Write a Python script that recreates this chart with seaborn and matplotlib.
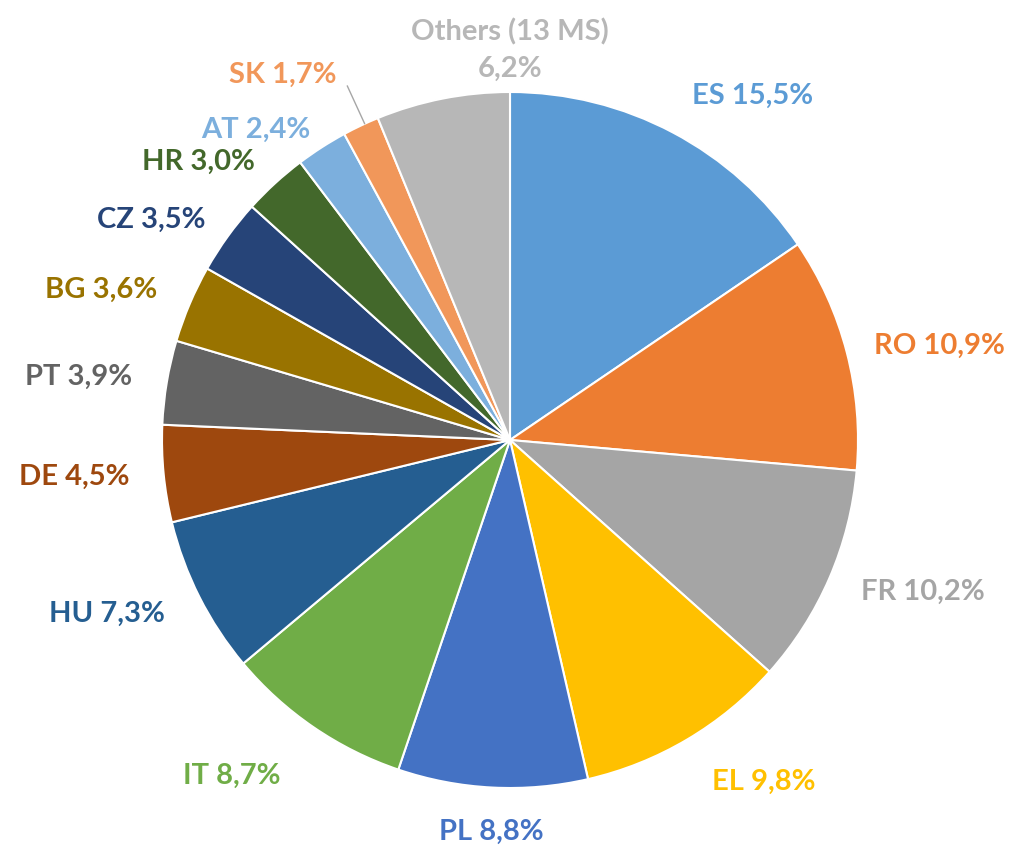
import numpy as np
import matplotlib.pyplot as plt
import seaborn as sns

sns.set_theme(style="white")
plt.rcParams['font.family'] = ['Lato', 'DejaVu Sans']

# Shares by member state (%)
countries = ["ES", "RO", "FR", "EL", "PL", "IT", "HU", "DE", "PT", "BG",
             "CZ", "HR", "AT", "SK", "Others (13 MS)"]
shares = [15.5, 10.9, 10.2, 9.8, 8.8, 8.7, 7.3, 4.5, 3.9, 3.6,
          3.5, 3.0, 2.4, 1.7, 6.2]
colors = ["#5B9BD5", "#ED7D31", "#A5A5A5", "#FFC000", "#4472C4", "#70AD47",
          "#255E91", "#9E480E", "#636363", "#997300", "#264478", "#43682B",
          "#7CAFDD", "#F1975A", "#B7B7B7"]

# label distance from centre (in radii)
label_r = {"ES": 1.12, "RO": 1.08, "FR": 1.10, "EL": 1.14, "PL": 1.09,
           "IT": 1.17, "HU": 1.11, "DE": 1.10, "PT": 1.10, "BG": 1.10,
           "CZ": 1.08, "HR": 1.085, "AT": 1.06, "SK": 1.16,
           "Others (13 MS)": 1.12}

fig = plt.figure(figsize=(10.15, 8.48), dpi=100)
ax = fig.add_axes([0, 0, 1, 1])

wedges, _ = ax.pie(shares, colors=colors, startangle=90, counterclock=False,
                   radius=1.0,
                   wedgeprops=dict(edgecolor="white", linewidth=1.5))

# pie() resets the limits, so set them afterwards
R = 348.0
cx, cy = 510.0, 440.0
ax.set_xlim(-cx / R, (1015 - cx) / R)
ax.set_ylim(-(848 - cy) / R, cy / R)
ax.set_aspect("equal")
ax.axis("off")

total = sum(shares)
start = 90.0
for name, val, col in zip(countries, shares, colors):
    span = val / total * 360
    mid = start - span / 2
    start -= span
    r = label_r[name]
    pct = f"{val:.1f}".replace(".", ",") + "%"
    if name.startswith("Others"):
        ax.text(0, r, f"{name}\n{pct}", color=col, ha="center", va="center",
                fontsize=21, fontweight="bold", linespacing=1.5)
        continue
    a = np.deg2rad(mid)
    x, y = r * np.cos(a), r * np.sin(a)
    if name == "PL":
        ha, va = "center", "top"
    else:
        ha = "left" if np.cos(a) > 0 else "right"
        va = "center"
    ax.text(x, y, f"{name} {pct}", color=col, ha=ha, va=va,
            fontsize=21, fontweight="bold")
    if name == "SK":
        # leader line from the thin slice up to its label
        b = np.deg2rad(mid - 0.7)
        ax.plot([1.0 * np.cos(b), 1.12 * np.cos(b)],
                [1.0 * np.sin(b), 1.12 * np.sin(b)],
                color="#A6A6A6", lw=1)

fig.savefig("out.png", dpi=100, facecolor="white")
